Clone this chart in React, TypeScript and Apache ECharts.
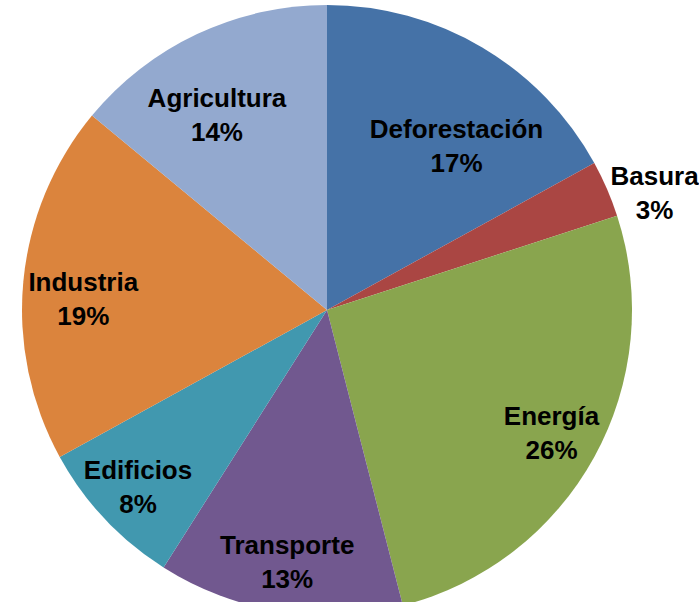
import React, { useEffect, useRef } from "react";
import * as echarts from "echarts";

// Data
const categories = ["Deforestación", "Basura", "Energía", "Transporte", "Edificios", "Industria", "Agricultura"];
const shares = [17, 3, 26, 13, 8, 19, 14];

// Styles / layout
const colors = ["#4572A7", "#AA4643", "#89A54E", "#71588F", "#4198AF", "#DB843D", "#93A9CF"];
const labelRadiusFactor = [0.685, 1.14, 0.84, 0.835, 0.85, 0.8, 0.735];
const labelAngleShift = [7.7, 3.8, 0, 0, 0, -2.7, -4.2];

const CX = 327;
const CY = 310;
const R = 305;

export default function App() {
  const ref = useRef<HTMLDivElement>(null);
  useEffect(() => {
    document.body.style.margin = "0";
    const chart = echarts.init(ref.current!, null, { renderer: "svg" });
    const total = shares.reduce((a, b) => a + b, 0);
    const midAngles: number[] = [];
    let acc = 0;
    shares.forEach((v) => {
      midAngles.push(((acc + v / 2) / total) * 360);
      acc += v;
    });
    chart.setOption({
      animation: false,
      backgroundColor: "#ffffff",
      series: [
        {
          type: "pie",
          center: [CX, CY],
          radius: [0, R],
          startAngle: 90,
          clockwise: true,
          avoidLabelOverlap: false,
          data: categories.map((name, i) => ({
            name,
            value: shares[i],
            itemStyle: { color: colors[i] },
          })),
          itemStyle: { borderWidth: 0 },
          emphasis: { disabled: true },
          label: {
            show: true,
            position: "inside",
            formatter: (p: any) => `${p.name}\n${p.value}%`,
            fontFamily: "Liberation Sans, Arial, sans-serif",
            fontWeight: "bold",
            fontSize: 26,
            lineHeight: 34,
            color: "#000000",
            align: "center",
            verticalAlign: "middle",
          },
          labelLine: { show: false },
          labelLayout: (params: any) => {
            const i = params.dataIndex;
            const ang = ((midAngles[i] + labelAngleShift[i]) * Math.PI) / 180;
            const d = R * labelRadiusFactor[i];
            return {
              x: CX + d * Math.sin(ang),
              y: CY - d * Math.cos(ang),
              align: "center",
              verticalAlign: "middle",
            };
          },
        },
      ],
    });
    return () => chart.dispose();
  }, []);
  return <div ref={ref} style={{ width: 699, height: 602 }} />;
}
